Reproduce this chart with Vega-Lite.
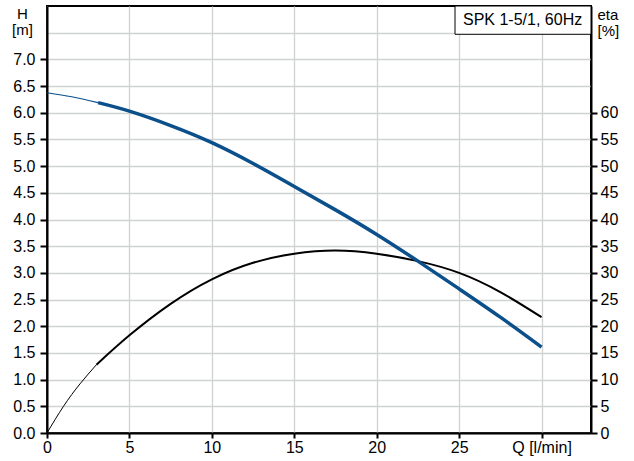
{
  "$schema": "https://vega.github.io/schema/vega-lite/v6.json",
  "width": 544,
  "height": 427,
  "autosize": "none",
  "padding": {"left": 47, "top": 6, "right": 43, "bottom": 28},
  "background": "white",
  "config": {
    "view": {"stroke": "black", "strokeWidth": 2},
    "font": "Liberation Sans",
    "axis": {"labelFont": "Liberation Sans", "titleFont": "Liberation Sans", "labelColor": "black", "titleColor": "black", "titleFontWeight": "normal", "domainColor": "black", "tickColor": "black", "gridColor": "#cfd1d3", "gridWidth": 1.3, "labelOverlap": false, "labelFontSize": 16}
  },
  "datasets": {
    "head": [
      {"Q": 0, "H": 6.375, "seg": "thin"},
      {"Q": 1.5, "H": 6.30, "seg": "thin"},
      {"Q": 3.1, "H": 6.19, "seg": "thin"},
      {"Q": 3.1, "H": 6.19, "seg": "thick"},
      {"Q": 5, "H": 6.03, "seg": "thick"},
      {"Q": 7.5, "H": 5.76, "seg": "thick"},
      {"Q": 10, "H": 5.44, "seg": "thick"},
      {"Q": 12.5, "H": 5.05, "seg": "thick"},
      {"Q": 15, "H": 4.62, "seg": "thick"},
      {"Q": 17.5, "H": 4.18, "seg": "thick"},
      {"Q": 20, "H": 3.72, "seg": "thick"},
      {"Q": 22.5, "H": 3.22, "seg": "thick"},
      {"Q": 25, "H": 2.70, "seg": "thick"},
      {"Q": 27.5, "H": 2.17, "seg": "thick"},
      {"Q": 30, "H": 1.61, "seg": "thick"}
    ],
    "eta": [
      {"Q": 0, "eta": 0, "seg": "thin"},
      {"Q": 1, "eta": 5.0, "seg": "thin"},
      {"Q": 2, "eta": 9.2, "seg": "thin"},
      {"Q": 3, "eta": 12.8, "seg": "thin"},
      {"Q": 3, "eta": 12.8, "seg": "thick"},
      {"Q": 5, "eta": 18.3, "seg": "thick"},
      {"Q": 7.5, "eta": 24.2, "seg": "thick"},
      {"Q": 10, "eta": 28.8, "seg": "thick"},
      {"Q": 12.5, "eta": 31.9, "seg": "thick"},
      {"Q": 15, "eta": 33.6, "seg": "thick"},
      {"Q": 17.5, "eta": 34.2, "seg": "thick"},
      {"Q": 20, "eta": 33.6, "seg": "thick"},
      {"Q": 22.5, "eta": 32.2, "seg": "thick"},
      {"Q": 25, "eta": 30.0, "seg": "thick"},
      {"Q": 27.5, "eta": 26.4, "seg": "thick"},
      {"Q": 30, "eta": 21.7, "seg": "thick"}
    ],
    "box": [
      {"Q": 24.75, "Q1": 33, "H": 7.47, "H1": 8, "Qc": 28.85, "Hc": 7.735, "label": "SPK 1-5/1, 60Hz"}
    ]
  },
  "layer": [
    {
      "data": {"name": "eta"},
      "mark": {"type": "line", "color": "black", "interpolate": "natural", "strokeCap": "butt"},
      "encoding": {
        "y": {"field": "eta", "type": "quantitative", "scale": {"domain": [0, 80], "nice": false},
          "axis": {"orient": "right", "values": [0, 5, 10, 15, 20, 25, 30, 35, 40, 45, 50, 55, 60], "format": "d", "grid": false, "labelFontSize": 16, "tickSize": 6, "tickWidth": 2, "domainWidth": 2, "labelPadding": 3, "labelBaseline": "middle", "labelOverlap": false,
            "title": ["eta", "[%]"], "titleAngle": 0, "titleAlign": "left", "titleBaseline": "alphabetic", "titleX": 6, "titleY": 13, "titleFontSize": 15, "titleLineHeight": 16}},
        "detail": {"field": "seg"},
        "strokeWidth": {"field": "seg", "type": "nominal", "scale": {"domain": ["thin", "thick"], "range": [1, 2]}, "legend": null}
      }
    },
    {
      "encoding": {
        "y": {"field": "H", "type": "quantitative",
          "scale": {"domain": [0, 8], "nice": false},
          "axis": {"orient": "left", "values": [0, 0.5, 1, 1.5, 2, 2.5, 3, 3.5, 4, 4.5, 5, 5.5, 6, 6.5, 7, 7.5], "format": ".1f",
            "labelExpr": "datum.value > 7.1 ? '' : datum.label", "tickOpacity": {"condition": {"test": "datum.value > 7.1", "value": 0}, "value": 1},
            "grid": true, "labelFontSize": 16, "tickSize": 7, "tickWidth": 2, "domainWidth": 2, "labelPadding": 5, "labelBaseline": "middle", "labelOverlap": false,
            "title": ["H", "[m]"], "titleAngle": 0, "titleAlign": "center", "titleBaseline": "alphabetic", "titleX": -25, "titleY": 12, "titleFontSize": 15, "titleLineHeight": 16}}
      },
      "layer": [
        {
          "data": {"name": "box"},
          "mark": {"type": "rect", "fill": "white", "stroke": "black", "strokeWidth": 1},
          "encoding": {
            "x2": {"field": "Q1"},
            "y2": {"field": "H1"}
          }
        },
        {
          "data": {"name": "box"},
          "mark": {"type": "text", "fontSize": 16, "color": "black", "align": "center", "baseline": "middle"},
          "encoding": {
            "x": {"field": "Qc", "type": "quantitative"},
            "y": {"field": "Hc", "type": "quantitative"},
            "text": {"field": "label"}
          }
        },
        {
          "data": {"name": "head"},
          "mark": {"type": "line", "color": "#0b4f8b", "interpolate": "natural", "strokeCap": "butt"},
          "encoding": {
            "detail": {"field": "seg"},
            "strokeWidth": {"field": "seg", "type": "nominal", "scale": {"domain": ["thin", "thick"], "range": [1.2, 3.5]}, "legend": null}
          }
        }
      ]
    }
  ],
  "encoding": {
    "x": {"field": "Q", "type": "quantitative", "scale": {"domain": [0, 33], "nice": false, "zero": false},
      "axis": {"values": [0, 5, 10, 15, 20, 25, 30], "labelExpr": "datum.value == 30 ? 'Q [l/min]' : datum.label", "title": null, "grid": true, "labelFontSize": 16, "labelPadding": 1, "tickSize": 5, "tickWidth": 2, "domainWidth": 2, "labelFlush": false, "labelOverlap": false}}
  },
  "resolve": {"scale": {"y": "independent", "strokeWidth": "independent"}, "axis": {"y": "independent"}}
}
